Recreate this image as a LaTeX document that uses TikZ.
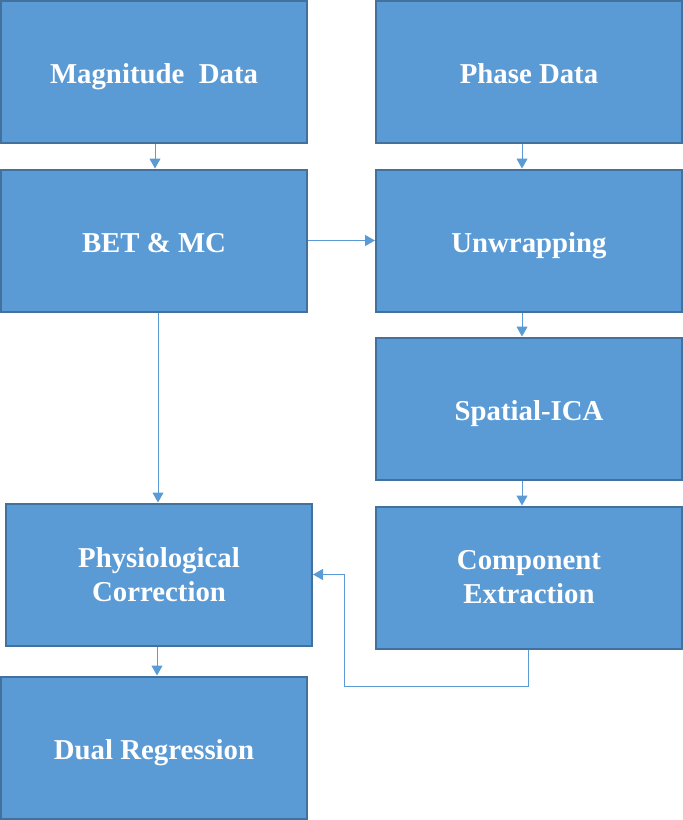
\documentclass[tikz,border=0pt]{standalone}
\usepackage{fontspec}
\setmainfont{Liberation Serif}
\usetikzlibrary{arrows.meta}
\definecolor{boxfill}{RGB}{91,155,213}
\definecolor{boxline}{RGB}{65,113,156}
\definecolor{pfeil}{RGB}{91,155,213}
\begin{document}
\begin{tikzpicture}[x=1pt, y=-1pt,
    box/.style={draw=boxline, line width=2pt, fill=boxfill, text=white,
        minimum width=306pt, minimum height=142pt, inner sep=0pt, align=center,
        text height=23pt, text depth=0pt, font=\fontsize{28.8}{34}\selectfont\bfseries},
    twoline/.style={box, text height={}, text depth={}},
    flow/.style={pfeil, line width=1pt, -{Triangle[width=11pt, length=10pt]}}]

    \useasboundingbox (0,0) rectangle (683,820);

    % left column
    \node[box] (mag)  at (154,72)    {Magnitude\ \ Data};
    \node[box] (bet)  at (154,240.5) {BET \& MC};
    \node[twoline] (phys) at (159,574.5) {Physiological\\Correction};
    \node[box] (dual) at (154,747.5) {Dual Regression};

    % right column
    \node[box] (phase)  at (529,72)    {Phase Data};
    \node[box] (unwrap) at (529,240.5) {Unwrapping};
    \node[box] (ica)    at (529,408.5) {Spatial-ICA};
    \node[twoline] (comp)   at (529,577.5) {Component\\Extraction};

    \coordinate (loop) at (344,686);

    \draw[flow] ([xshift=1pt]mag.south) -- ([xshift=1pt]bet.north);
    \draw[flow] ([xshift=-7pt]phase.south) -- ([xshift=-7pt]unwrap.north);
    \draw[flow] (bet) -- (unwrap);
    \draw[flow] ([xshift=-7pt]unwrap.south) -- ([xshift=-7pt]ica.north);
    \draw[flow] ([xshift=-7pt]ica.south) -- ([xshift=-7pt]comp.north);
    \draw[flow] ([xshift=4pt]bet.south) -- ([xshift=-1pt]phys.north);
    \draw[flow] ([xshift=-2pt]phys.south) -- ([xshift=3pt]dual.north);
    \draw[flow] ([xshift=-1pt]comp.south) |- (loop) |- (phys.east);

\end{tikzpicture}
\end{document}
